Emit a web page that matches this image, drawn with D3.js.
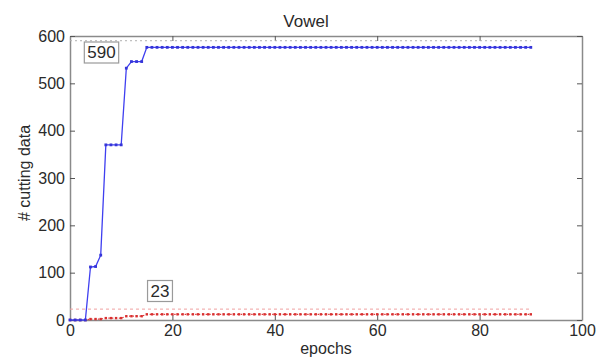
<!DOCTYPE html>
<html>
<head>
<meta charset="utf-8">
<script src="https://cdn.jsdelivr.net/npm/d3@7"></script>
<style>
  html, body { margin: 0; padding: 0; background: #fff; }
  svg { display: block; }
  text { font-family: "Liberation Sans", Arial, sans-serif; fill: #2a2a2a; }
</style>
</head>
<body>
<svg id="chart" width="602" height="361"></svg>
<script>
// Training epochs and the number of cutting data found per epoch
const epochs = d3.range(0, 91);
const blueCounts = [0, 0, 0, 0, 112, 113, 137, 370, 370, 370, 370, 532, 546, 546, 546]
  .concat(new Array(76).fill(576));
const redCounts = [0, 0, 0, 0, 2, 2, 2, 4, 4, 4, 4, 8, 8, 8, 8]
  .concat(new Array(76).fill(12));

// Reference levels and their labels
const blueLimit = 590;
const redLimit = 23;
const xTicks = [0, 20, 40, 60, 80, 100];
const yTicks = [0, 100, 200, 300, 400, 500, 600];
const titleText = "Vowel";
const xLabel = "epochs";
const yLabel = "# cutting data";

const svg = d3.select("#chart");
const plotLeft = 70, plotRight = 582, plotTop = 36, plotBottom = 320;

const x = d3.scaleLinear().domain([0, 100]).range([plotLeft, plotRight]);
const y = d3.scaleLinear().domain([0, 600]).range([plotBottom, plotTop]);

const axisColor = "#8a8a8a";

// Axes with inward ticks on all four sides
const gx = svg.append("g").attr("transform", `translate(0,${plotBottom})`)
  .call(d3.axisBottom(x).tickValues(xTicks).tickSizeInner(-5).tickSizeOuter(0).tickPadding(5));
const gxTop = svg.append("g").attr("transform", `translate(0,${plotTop})`)
  .call(d3.axisTop(x).tickValues(xTicks).tickSizeInner(-5).tickSizeOuter(0).tickFormat(""));
const gy = svg.append("g").attr("transform", `translate(${plotLeft},0)`)
  .call(d3.axisLeft(y).tickValues(yTicks).tickSizeInner(-5).tickSizeOuter(0).tickPadding(5));
const gyRight = svg.append("g").attr("transform", `translate(${plotRight},0)`)
  .call(d3.axisRight(y).tickValues(yTicks).tickSizeInner(-5).tickSizeOuter(0).tickFormat(""));

[gx, gxTop, gy, gyRight].forEach(g => {
  g.select(".domain").attr("stroke", axisColor).attr("stroke-width", 1.5);
  g.selectAll(".tick line").attr("stroke", "#555").attr("stroke-width", 1);
  g.selectAll(".tick text").style("font-size", "16px").attr("fill", "#2a2a2a");
});

// Limit lines
svg.append("line")
  .attr("x1", x(0)).attr("x2", x(90))
  .attr("y1", y(blueLimit)).attr("y2", y(blueLimit))
  .attr("stroke", "#b0b0b0").attr("stroke-width", 1).attr("stroke-dasharray", "2,3");
svg.append("line")
  .attr("x1", x(0)).attr("x2", x(90))
  .attr("y1", y(redLimit)).attr("y2", y(redLimit))
  .attr("stroke", "#f0a0a0").attr("stroke-width", 1).attr("stroke-dasharray", "3,3");

// Series
const line = d3.line().x((d, i) => x(epochs[i])).y(d => y(d));

svg.append("path").datum(redCounts)
  .attr("d", line).attr("fill", "none")
  .attr("stroke", "#e03a3a").attr("stroke-width", 1.2).attr("stroke-dasharray", "1.5,2");
svg.append("g").selectAll("rect").data(redCounts).join("rect")
  .attr("x", (d, i) => x(epochs[i]) - 1.2).attr("y", d => y(d) - 1.2)
  .attr("width", 2.4).attr("height", 2.4).attr("fill", "#d83030");

svg.append("path").datum(blueCounts)
  .attr("d", line).attr("fill", "none")
  .attr("stroke", "#3f3ff0").attr("stroke-width", 1.3);
svg.append("g").selectAll("rect").data(blueCounts).join("rect")
  .attr("x", (d, i) => x(epochs[i]) - 1.4).attr("y", d => y(d) - 1.4)
  .attr("width", 2.8).attr("height", 2.8).attr("fill", "#3535d8");

// Boxed value labels
function boxLabel(cx, cy, txt) {
  const g = svg.append("g");
  const t = g.append("text").attr("x", cx).attr("y", cy)
    .attr("text-anchor", "middle").attr("dominant-baseline", "central")
    .style("font-size", "17px").text(txt);
  const b = t.node().getBBox();
  g.insert("rect", "text")
    .attr("x", b.x - 3).attr("y", b.y - 1).attr("width", b.width + 6).attr("height", b.height + 2)
    .attr("fill", "#fff").attr("stroke", "#9a9a9a").attr("stroke-width", 1.2);
}
boxLabel(101.5, 52.5, String(blueLimit));
boxLabel(160, 291, String(redLimit));

// Title and axis labels
svg.append("text").attr("x", 306).attr("y", 27)
  .attr("text-anchor", "middle").style("font-size", "17px").text(titleText);
svg.append("text").attr("x", (plotLeft + plotRight) / 2).attr("y", 354)
  .attr("text-anchor", "middle").style("font-size", "16px").text(xLabel);
svg.append("text")
  .attr("transform", `translate(30,173) rotate(-90)`)
  .attr("text-anchor", "middle").style("font-size", "16px").text(yLabel);
</script>
</body>
</html>
